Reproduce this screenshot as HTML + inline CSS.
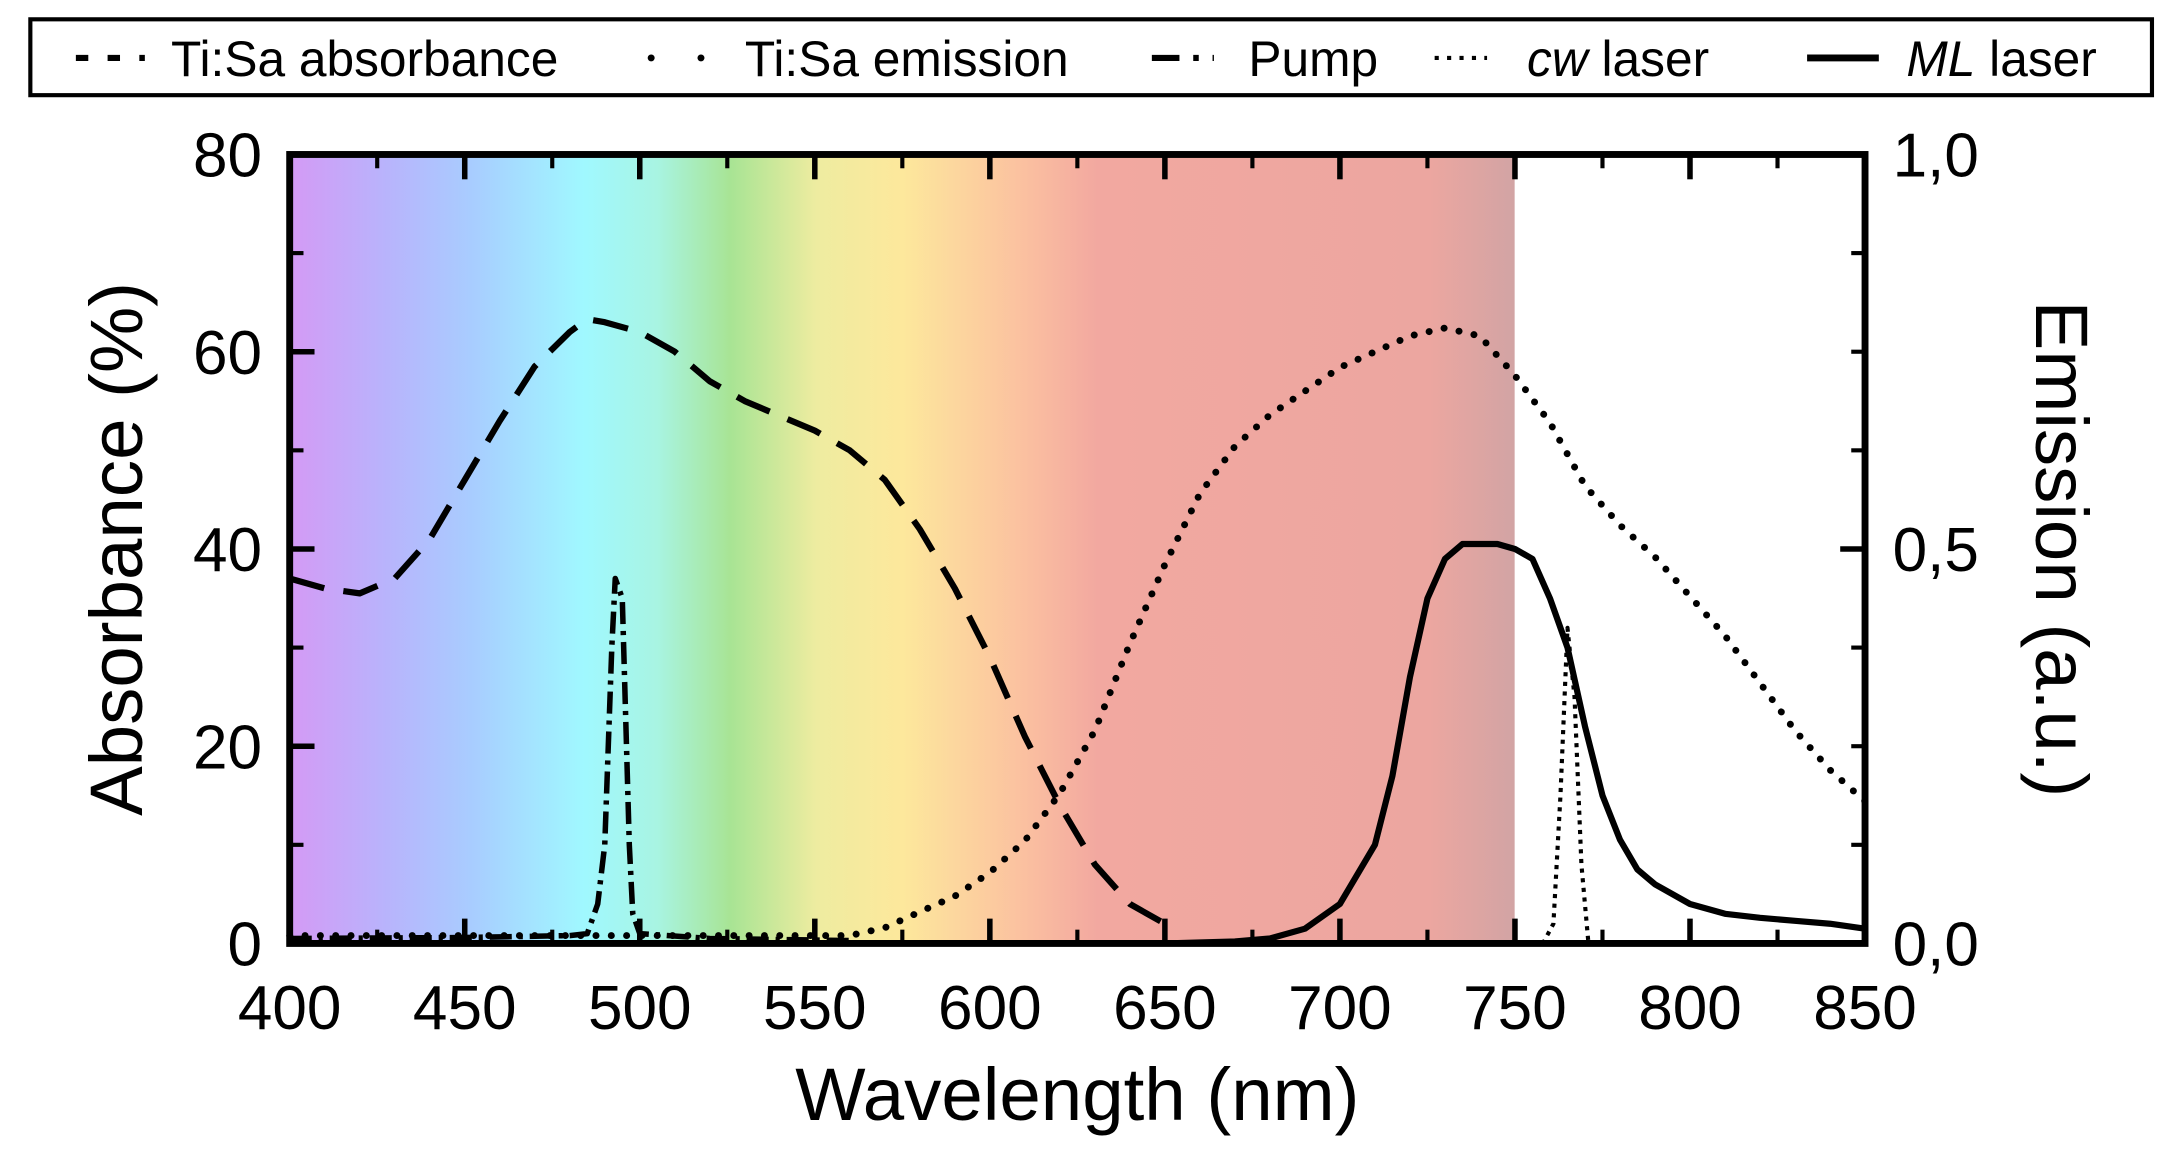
<!DOCTYPE html>
<html><head><meta charset="utf-8"><style>
html,body{margin:0;padding:0;background:#fff;}
svg{display:block;font-family:"Liberation Sans",sans-serif;}
</style></head><body>
<svg id="chart" width="2163" height="1160" viewBox="0 0 1568 841" preserveAspectRatio="none" xmlns="http://www.w3.org/2000/svg">
<defs>
<linearGradient id="spec" x1="0" x2="1" y1="0" y2="0">
<stop offset="0" stop-color="#d49af5"/>
<stop offset="0.08" stop-color="#b8b4fc"/>
<stop offset="0.15" stop-color="#a8cdff"/>
<stop offset="0.24" stop-color="#a0f8ff"/>
<stop offset="0.3" stop-color="#a8f4e2"/>
<stop offset="0.36" stop-color="#a8e494"/>
<stop offset="0.43" stop-color="#eeeca0"/>
<stop offset="0.5" stop-color="#fde89c"/>
<stop offset="0.6" stop-color="#fbc0a0"/>
<stop offset="0.66" stop-color="#f2a8a0"/>
<stop offset="0.93" stop-color="#eca6a0"/>
<stop offset="1" stop-color="#d2a4a4"/>
</linearGradient>
</defs>
<g id="legend">
<rect x="22" y="14" width="1538" height="55" fill="#fff" stroke="#000" stroke-width="3"/>
<line x1="55" y1="42" x2="105" y2="42" stroke="#000" stroke-width="4.5" stroke-dasharray="9 14"/>
<text x="124" y="55" font-size="36">Ti:Sa absorbance</text>
<line x1="472" y1="42" x2="515" y2="42" stroke="#000" stroke-width="5" stroke-linecap="round" stroke-dasharray="0.1 36"/>
<text x="540" y="55" font-size="36">Ti:Sa emission</text>
<line x1="835" y1="42" x2="880" y2="42" stroke="#000" stroke-width="4.5" stroke-dasharray="20 10 4 10"/>
<text x="905" y="55" font-size="36">Pump</text>
<line x1="1040" y1="42" x2="1078" y2="42" stroke="#000" stroke-width="3" stroke-dasharray="3 6"/>
<text x="1107" y="55" font-size="36"><tspan font-style="italic">cw</tspan> laser</text>
<line x1="1310" y1="42" x2="1362" y2="42" stroke="#000" stroke-width="5"/>
<text x="1382" y="55" font-size="36"><tspan font-style="italic">ML</tspan> laser</text>
</g>
<rect x="210" y="112" width="888" height="572" fill="url(#spec)"/>
<g id="marks"></g>
<rect x="210" y="112" width="1142" height="572" fill="none" stroke="#000" stroke-width="5"/>
<g id="axes"></g>
<text x="781" y="812" font-size="54" text-anchor="middle">Wavelength (nm)</text>
<text transform="translate(103,398) rotate(-90)" font-size="54" text-anchor="middle">Absorbance (%)</text>
<text transform="translate(1476,398) rotate(90)" font-size="54" text-anchor="middle">Emission (a.u.)</text>
</svg>
<script>
const xTicks=[400,450,500,550,600,650,700,750,800,850];
const yLeftTicks=[0,20,40,60,80];
const yRightTicks=["0,0","0,5","1,0"];
const absWl=[400,410,420,430,440,450,460,470,480,485,490,500,510,520,530,540,550,560,570,580,590,600,610,620,630,640,650];
const absVal=[37,36,35.5,37,41,47,53,58.5,62,63.3,63,62,60,57,55,53.5,52,50,47,42,36,29,21,14,8,4,2];
const emWl=[400,450,500,550,560,570,580,590,600,610,620,630,640,650,660,670,680,690,700,710,720,730,740,750,760,770,780,790,800,810,820,830,840,850];
const emVal=[0.01,0.01,0.01,0.01,0.01,0.02,0.04,0.06,0.09,0.13,0.19,0.27,0.38,0.48,0.57,0.63,0.67,0.7,0.73,0.75,0.77,0.78,0.77,0.72,0.66,0.58,0.53,0.49,0.44,0.39,0.33,0.27,0.22,0.18];
const pumpWl=[400,450,480,485,488,490,492,493,495,497,498,500,520,560];
const pumpVal=[0.5,0.6,0.8,1,4,10,30,37,35,10,3,1,0.5,0.3];
const cwWl=[700,758,761,763,765,767,769,771,850];
const cwVal=[0,0,2,15,32,25,8,0,0];
const mlWl=[650,670,680,690,700,710,715,720,725,730,735,740,745,750,755,760,765,770,775,780,785,790,800,810,820,830,840,850];
const mlVal=[0,0.2,0.5,1.5,4,10,17,27,35,39,40.5,40.5,40.5,40,39,35,30,22,15,10.5,7.5,6,4,3,2.6,2.3,2,1.5];

const X=w=>210+(w-400)/450*1142;
const YL=v=>684-v/80*572;
const YR=v=>684-v*572;
const NS="http://www.w3.org/2000/svg";
const marks=document.getElementById('marks'), axes=document.getElementById('axes');
function path(wl,val,yf,dash,width,name,cap){
  const p=document.createElementNS(NS,'path');
  p.setAttribute('d',wl.map((w,i)=>(i?'L':'M')+X(w).toFixed(1)+','+yf(val[i]).toFixed(1)).join(''));
  p.setAttribute('fill','none');p.setAttribute('stroke','#000');
  p.setAttribute('stroke-width',width);
  if(dash)p.setAttribute('stroke-dasharray',dash);
  if(cap)p.setAttribute('stroke-linecap',cap);
  p.setAttribute('stroke-linejoin','round');
  
  
  marks.appendChild(p);
}
path(absWl,absVal,YL,'26 14',4.5,'absorbance-line');
path(emWl,emVal,YR,'0.1 11',5,'emission-line','round');
path(pumpWl,pumpVal,YL,'16 5 3 5',4,'pump-line');
path(cwWl,cwVal,YL,'3 4',3,'cw-laser-line');
path(mlWl,mlVal,YL,null,4.5,'ml-laser-line');
function line(x1,y1,x2,y2,w){const l=document.createElementNS(NS,'line');
 l.setAttribute('x1',x1);l.setAttribute('y1',y1);l.setAttribute('x2',x2);l.setAttribute('y2',y2);
 l.setAttribute('stroke','#000');l.setAttribute('stroke-width',w);
 
 
 axes.appendChild(l);}
function text(x,y,s,anchor,name){const t=document.createElementNS(NS,'text');
 t.setAttribute('x',x);t.setAttribute('y',y);t.setAttribute('font-size','45');t.setAttribute('text-anchor',anchor);t.textContent=s;
 
 
 axes.appendChild(t);}
xTicks.forEach(w=>{const x=X(w);line(x,112,x,130,4);line(x,684,x,666,4);text(x,746,String(w),'middle','x-tick-label');});
for(let w=425;w<850;w+=50){const x=X(w);line(x,112,x,122,3);line(x,684,x,674,3);}
yLeftTicks.forEach(v=>{const y=YL(v);line(210,y,228,y,4);text(190,y+16,String(v),'end','y-left-tick-label');});
for(let v=10;v<80;v+=20){const y=YL(v);line(210,y,220,y,3);}
yRightTicks.forEach((s,i)=>{const y=YR(i*0.5);line(1352,y,1334,y,4);text(1372,y+16,s,'start','y-right-tick-label');});
for(let v=0.125;v<1;v+=0.125){const y=YR(v);line(1352,y,1342,y,3);}
</script>
</body></html>
